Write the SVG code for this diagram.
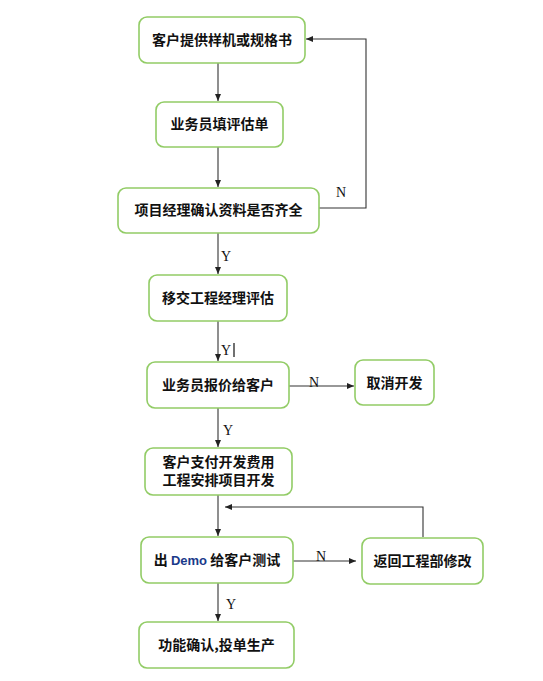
<svg xmlns="http://www.w3.org/2000/svg" width="543" height="681" viewBox="0 0 543 681">
<defs>
<marker id="ah" markerWidth="8" markerHeight="8" refX="7" refY="4" orient="auto" markerUnits="userSpaceOnUse">
<path d="M0,1 L7,4 L0,7 Z" fill="#222"/>
</marker>
<style>
.box{fill:#fff;stroke:#92cc66;stroke-width:1.6}
.t{font-family:"Noto Sans CJK SC","Noto Sans",sans-serif;font-size:14px;font-weight:bold;fill:#111;text-anchor:middle}
.c{fill:none;stroke:#333;stroke-width:1.1}
.a{marker-end:url(#ah)}
.l{font-family:"Liberation Serif",serif;font-size:14px;fill:#111}
</style>
</defs>
<rect width="543" height="681" fill="#fff"/>
<g id="connectors">
<line class="c a" x1="218" y1="63" x2="218" y2="101"/>
<line class="c a" x1="218" y1="147" x2="218" y2="187"/>
<polyline class="c a" points="319,208 366,208 366,39 306,39"/>
<line class="c a" x1="218" y1="233" x2="218" y2="274"/>
<line class="c a" x1="218" y1="321" x2="218" y2="361"/>
<line x1="234" y1="343" x2="234" y2="357" stroke="#111" stroke-width="1.2"/>
<line class="c a" x1="289" y1="386" x2="354" y2="386"/>
<line class="c a" x1="218" y1="408" x2="218" y2="447"/>
<line class="c a" x1="218" y1="495" x2="218" y2="536"/>
<polyline class="c a" points="423,537 423,507 225,507"/>
<line class="c a" x1="293" y1="561" x2="356" y2="561"/>
<line class="c a" x1="218" y1="583" x2="218" y2="621"/>
<text class="l" x="336" y="197">N</text>
<text class="l" x="221" y="261">Y</text>
<text class="l" x="221" y="355">Y</text>
<text class="l" x="309" y="387">N</text>
<text class="l" x="223" y="435">Y</text>
<text class="l" x="316" y="561">N</text>
<text class="l" x="226" y="609">Y</text>
</g>
<g id="n1"><rect class="box" x="139" y="17" width="166" height="46" rx="8"/><text class="t" x="222" y="45">客户提供样机或规格书</text></g>
<g id="n2"><rect class="box" x="156" y="102" width="127" height="45" rx="8"/><text class="t" x="219.5" y="129">业务员填评估单</text></g>
<g id="n3"><rect class="box" x="118" y="188" width="201" height="45" rx="8"/><text class="t" x="218.5" y="215">项目经理确认资料是否齐全</text></g>
<g id="n4"><rect class="box" x="149" y="275" width="138" height="46" rx="8"/><text class="t" x="218" y="303">移交工程经理评估</text></g>
<g id="n5"><rect class="box" x="147" y="362" width="142" height="46" rx="8"/><text class="t" x="218" y="390">业务员报价给客户</text></g>
<g id="n6"><rect class="box" x="355" y="360" width="79" height="45" rx="8"/><text class="t" x="394.5" y="388">取消开发</text></g>
<g id="n7"><rect class="box" x="145" y="448" width="147" height="47" rx="8"/><text class="t" x="218.5" y="467">客户支付开发费用</text><text class="t" x="218.5" y="485">工程安排项目开发</text></g>
<g id="n8"><rect class="box" x="141" y="537" width="152" height="46" rx="8"/><text class="t" x="217" y="565">出 <tspan font-family="'Liberation Sans',sans-serif" font-size="13" fill="#1a3a8a">Demo</tspan> 给客户测试</text></g>
<g id="n9"><rect class="box" x="362" y="538" width="121" height="46" rx="8"/><text class="t" x="422.5" y="566">返回工程部修改</text></g>
<g id="n10"><rect class="box" x="139" y="622" width="155" height="46" rx="8"/><text class="t" x="216.5" y="650">功能确认,投单生产</text></g>
</svg>
